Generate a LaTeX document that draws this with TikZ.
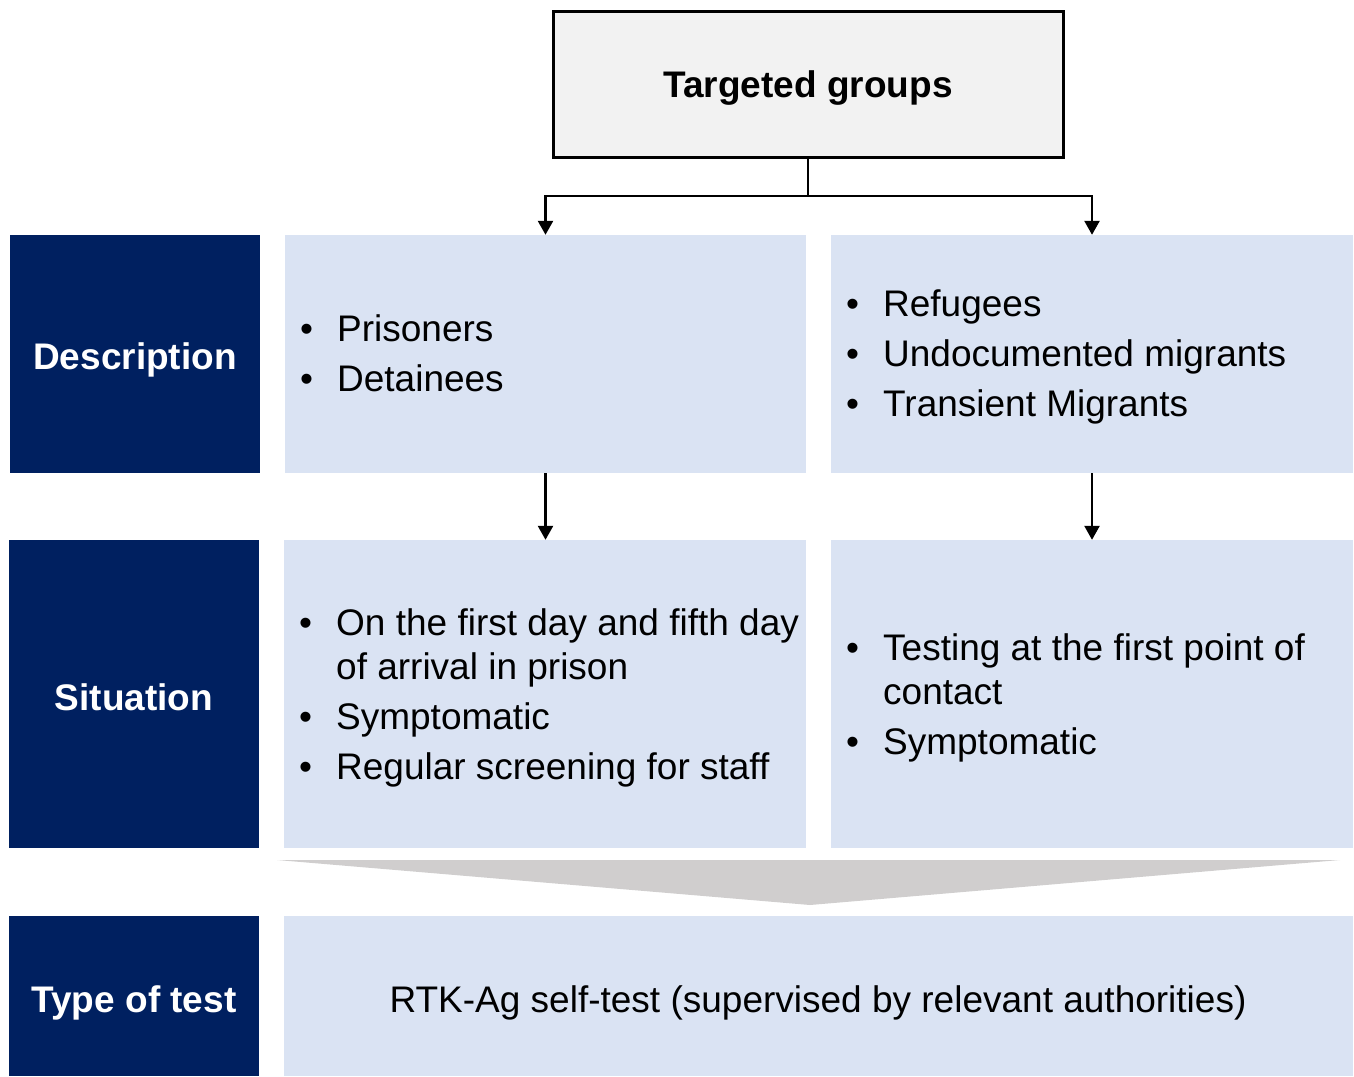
\documentclass[tikz,border=0pt]{standalone}
\usepackage{fontspec}
\setmainfont{Liberation Sans}
\usetikzlibrary{arrows.meta}
\definecolor{navy}{HTML}{002060}
\definecolor{lightblue}{HTML}{DAE3F3}
\definecolor{chev}{HTML}{D0CECE}
\definecolor{topfill}{HTML}{F2F2F2}
\newcommand{\bigfont}{\fontsize{37}{44}\selectfont}
\newcommand{\bul}{\textbullet}
\tikzset{
  navybox/.style={fill=navy, draw=none, inner sep=0pt},
  navytext/.style={inner sep=0pt, text=white, font=\bigfont\bfseries},
  lbox/.style={fill=lightblue, draw=none, inner sep=0pt},
  listtext/.style={inner sep=0pt, anchor=west, font=\bigfont, align=left},
  conn/.style={line width=2.5pt, -{Triangle[length=14pt,width=15pt]}},
}
\begin{document}
\begin{tikzpicture}[x=1pt,y=-1pt]
\useasboundingbox (0,0) rectangle (1354,1076);
% top box
\node[draw=black, line width=3pt, fill=topfill, minimum width=510pt, minimum height=146pt, inner sep=0pt] (top) at (808,84) {};
\node[inner sep=0pt, font=\bigfont\bfseries] (toptext) at (808,88) {Targeted groups};
% navy labels
\node[navybox, minimum width=250pt, minimum height=238pt] (desc) at (135,354) {};
\node[navybox, minimum width=250pt, minimum height=308pt] (sit) at (134,694) {};
\node[navybox, minimum width=250pt, minimum height=160pt] (tot) at (134,996) {};
\node[navytext] (desct) at (135,360) {Description};
\node[navytext] (sitt) at (134,697) {Situation};
\node[navytext] (tott) at (134,1003) {Type of test};
% light boxes
\node[lbox, minimum width=521pt, minimum height=238pt] (d1) at (545.5,354) {};
\node[lbox, minimum width=522pt, minimum height=238pt] (d2) at (1092,354) {};
\node[lbox, minimum width=522pt, minimum height=308pt] (s1) at (545,694) {};
\node[lbox, minimum width=522pt, minimum height=308pt] (s2) at (1092,694) {};
\node[lbox, minimum width=1069pt, minimum height=160pt] (t1) at (818.5,996) {};
% texts
\node[listtext] (d1t) at (300,358) {\begin{tabular}{@{}p{37pt}@{}l@{}}\bul & Prisoners\\[6pt] \bul & Detainees\end{tabular}};
\node[listtext] (d2t) at (846,358) {\begin{tabular}{@{}p{37pt}@{}l@{}}\bul & Refugees\\[6pt] \bul & Undocumented migrants\\[6pt] \bul & Transient Migrants\end{tabular}};
\node[listtext] (s1t) at (299,699) {\begin{tabular}{@{}p{37pt}@{}l@{}}\bul & On the first day and fifth day\\ & of arrival in prison\\[6pt] \bul & Symptomatic\\[6pt] \bul & Regular screening for staff\end{tabular}};
\node[listtext] (s2t) at (846,699) {\begin{tabular}{@{}p{37pt}@{}l@{}}\bul & Testing at the first point of\\ & contact\\[6pt] \bul & Symptomatic\end{tabular}};
\node[inner sep=0pt, font=\bigfont] (t1t) at (818,1003) {RTK-Ag self-test (supervised by relevant authorities)};
% chevron
\fill[chev] (277,860) -- (1340,860) -- (810,905) -- cycle;
% connectors
\coordinate (split) at (808,196);
\draw[line width=2.5pt] (top.south) -- (split);
\draw[conn] (split) -| (d1.north);
\draw[conn] (split) -| (d2.north);
\draw[conn] (d1.south) -- (s1.north -| d1.south);
\draw[conn] (d2.south) -- (s2.north -| d2.south);
\end{tikzpicture}
\end{document}
